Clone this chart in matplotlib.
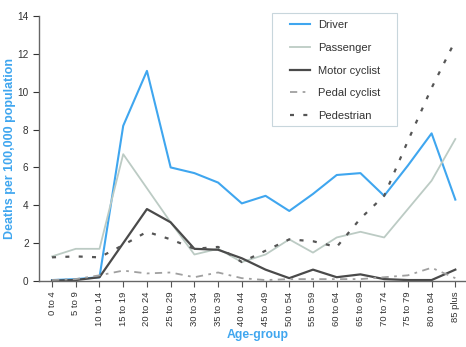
import matplotlib
matplotlib.use("Agg")
import matplotlib.pyplot as plt
from matplotlib.patches import Rectangle
import numpy as np

plt.rcParams['font.family'] = ['Liberation Sans', 'DejaVu Sans']

age_groups = ["0 to 4", "5 to 9", "10 to 14", "15 to 19", "20 to 24", "25 to 29",
              "30 to 34", "35 to 39", "40 to 44", "45 to 49", "50 to 54", "55 to 59",
              "60 to 64", "65 to 69", "70 to 74", "75 to 79", "80 to 84", "85 plus"]

driver = [0.05, 0.1, 0.2, 8.2, 11.1, 6.0, 5.7, 5.2, 4.1, 4.5, 3.7, 4.6,
          5.6, 5.7, 4.5, 6.1, 7.8, 4.3]
passenger = [1.3, 1.7, 1.7, 6.7, 4.9, 3.1, 1.4, 1.7, 1.0, 1.4, 2.2, 1.5,
             2.3, 2.6, 2.3, 3.8, 5.3, 7.5]
motor_cyclist = [0.02, 0.05, 0.2, 2.0, 3.8, 3.1, 1.7, 1.65, 1.2, 0.6, 0.15, 0.6,
                 0.2, 0.35, 0.1, 0.05, 0.05, 0.6]
pedal_cyclist = [0.05, 0.1, 0.3, 0.55, 0.4, 0.45, 0.2, 0.45, 0.15, 0.05, 0.1, 0.1,
                 0.1, 0.1, 0.2, 0.3, 0.7, 0.15]
pedestrian = [1.25, 1.3, 1.25, 1.9, 2.6, 2.2, 1.7, 1.8, 1.0, 1.6, 2.2, 2.1,
              1.8, 3.3, 4.5, 7.4, 10.2, 12.7]

W, H = 466, 347
fig = plt.figure(figsize=(W / 100, H / 100), dpi=100)
ax_w, ax_h = (W - 39) / W, (281 - 16) / H
ax = fig.add_axes([39 / W, 1 - 281 / H, ax_w, ax_h])

x = np.arange(len(age_groups))
blue = "#3fa6ef"
ax.plot(x, driver, color=blue, lw=1.5, label="Driver")
ax.plot(x, passenger, color="#bccbc4", lw=1.3, label="Passenger")
ax.plot(x, motor_cyclist, color="#4a4a4a", lw=1.6, label="Motor cyclist")
ax.plot(x, pedal_cyclist, color="#a0a0a0", lw=1.3, dashes=(4, 3, 1.5, 3),
        label="Pedal cyclist")
ax.plot(x, pedestrian, color="#555555", lw=1.6, dashes=(1.8, 4.2), label="Pedestrian")

ax.set_xlim(-0.55, 17.45)
ax.set_ylim(0, 14)
ax.set_yticks(range(0, 15, 2))
ax.set_xticks(x)
ax.set_xticklabels(age_groups, rotation=90, fontsize=6.8, color="#333333")
ax.tick_params(axis="y", labelsize=7.2, colors="#333333", length=4, width=0.8)
ax.tick_params(axis="x", length=4, width=0.8, colors="#555555", labelcolor="#333333")

for side in ("top", "right"):
    ax.spines[side].set_visible(False)
for side in ("left", "bottom"):
    ax.spines[side].set_color("#666666")
    ax.spines[side].set_linewidth(1.0)

ax.set_ylabel("Deaths per 100,000 population", color=blue, fontsize=9,
              fontweight="bold")
ax.yaxis.set_label_coords(-0.054, 0.5)
ax.set_xlabel("Age-group", color=blue, fontsize=8.8, fontweight="bold")
ax.xaxis.set_label_coords(0.513, -0.18)

# legend entries without their own frame, plus a separate outline box
px_w, px_h = W - 39, 281 - 16
def to_axes(px, py):
    return (px - 39) / px_w, (281 - py) / px_h

bx0, by0 = to_axes(272, 126)
bx1, by1 = to_axes(397, 13)
ax.add_patch(Rectangle((bx0, by0), bx1 - bx0, by1 - by0, transform=ax.transAxes,
                       facecolor="white", edgecolor="#c8d6dc", lw=0.8, zorder=4,
                       clip_on=False))

leg = ax.legend(loc="upper left", bbox_to_anchor=to_axes(290, 20),
                fontsize=8, frameon=False, handlelength=1.8, borderpad=0,
                labelspacing=1.15, handletextpad=0.75, borderaxespad=0)
leg.set_zorder(5)
for t in leg.get_texts():
    t.set_color("#333333")

fig.savefig("out.png", dpi=100)
